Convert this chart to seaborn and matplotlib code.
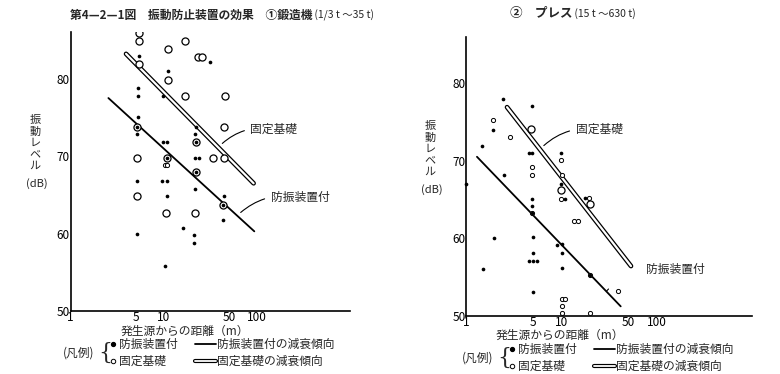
#!/usr/bin/env python3

import matplotlib
matplotlib.use('Agg')
import matplotlib.pyplot as plt
import matplotlib.ticker as mticker
from matplotlib.lines import Line2D
import seaborn as sns

# ---- data ----
# 1) forging machines (left)
forge_damped_x = [5.4, 31.5, 11.0, 5.3, 5.3, 9.9, 5.3, 5.2, 5.2, 22.0, 21.7, 9.9, 10.9,
                  21.7, 23.9, 5.1, 9.5, 10.7, 21.7, 10.8, 44.5, 43.5, 15.9, 5.1, 21.3,
                  21.3, 10.4, 22.0, 22.0, 10.8, 43.5]
forge_damped_y = [82.9, 82.2, 81.0, 78.8, 77.8, 77.8, 75.0, 73.8, 72.9, 73.8, 72.9, 71.8, 71.8,
                  69.8, 69.8, 66.8, 66.8, 66.8, 65.8, 64.8, 64.8, 61.8, 60.7, 59.9, 59.8,
                  58.8, 55.8, 71.8, 67.9, 69.8, 63.7]
forge_fixed_x = [5.4, 5.4, 17.0, 11.2, 23.0, 25.7, 5.4, 11.0, 16.7, 45.6, 44.5, 5.2, 22.0,
                 5.2, 10.8, 33.3, 44.5, 22.0, 5.2, 43.5, 10.6, 21.7]
forge_fixed_y = [85.9, 84.9, 84.9, 83.8, 82.8, 82.8, 81.9, 79.8, 77.8, 77.7, 73.8, 73.8, 71.8,
                 69.8, 69.8, 69.8, 69.8, 67.9, 64.8, 63.7, 62.7, 62.7]
forge_fixed_small_x = [10.3, 10.9]
forge_fixed_small_y = [68.8, 68.8]
forge_trend_fixed_x = [3.93, 91.9]
forge_trend_fixed_y = [83.2, 66.5]
forge_trend_damped_x = [2.54, 93.5]
forge_trend_damped_y = [77.5, 60.3]

# 2) presses (right)
press_damped_x = [2.41, 4.87, 1.47, 4.5, 4.87, 9.77, 2.47, 9.77, 4.87, 10.9, 17.8, 4.87, 4.87,
                  1.97, 4.95, 8.87, 10.0, 10.0, 4.95, 4.57, 5.03, 5.49, 1.51, 10.0, 20.0,
                  5.06, 1.89, 1.0]
press_damped_y = [78.0, 77.0, 71.9, 71.0, 71.0, 71.0, 68.1, 67.0, 65.1, 65.1, 65.2, 64.1, 63.2,
                  60.0, 60.1, 59.1, 59.3, 58.1, 58.1, 57.1, 57.1, 57.1, 56.0, 56.1, 55.2,
                  53.1, 74.0, 67.0]
press_fixed_x = [1.89, 2.89, 4.87, 4.87, 9.77, 10.0, 9.77, 19.6, 13.4, 14.8, 4.87, 20.0,
                 39.5, 10.0, 10.9, 10.0, 10.0, 19.7]
press_fixed_y = [75.2, 73.0, 69.2, 68.1, 70.1, 68.1, 65.1, 65.2, 62.2, 62.2, 63.2, 55.2,
                 53.2, 52.1, 52.1, 51.2, 50.4, 50.4]
press_fixed_big_x = [4.75, 9.77, 19.7]
press_fixed_big_y = [74.1, 66.2, 64.4]
press_trend_fixed_x = [2.67, 53.6]
press_trend_fixed_y = [76.9, 56.4]
press_trend_damped_x = [1.29, 41.8]
press_trend_damped_y = [70.5, 51.2]

x_ticks = [1, 5, 10, 50, 100]
y_ticks = [50, 60, 70, 80]

sns.set_style('white')
plt.rcParams['font.family'] = ['Noto Sans CJK JP', 'DejaVu Sans']
plt.rcParams['font.size'] = 9

JP = ['Noto Sans CJK JP', 'DejaVu Sans']


def style_axis(ax):
    ax.set_xscale('log')
    ax.set_xlim(1, 1000)
    ax.set_ylim(50, 86)
    sns.despine(ax=ax)
    for s in ['left', 'bottom']:
        ax.spines[s].set_color('black')
        ax.spines[s].set_linewidth(1.2)
    ax.xaxis.set_major_locator(mticker.FixedLocator(x_ticks))
    ax.xaxis.set_major_formatter(mticker.FixedFormatter([str(t) for t in x_ticks]))
    ax.xaxis.set_minor_locator(mticker.LogLocator(base=10, subs=range(2, 10)))
    ax.xaxis.set_minor_formatter(mticker.NullFormatter())
    ax.yaxis.set_major_locator(mticker.FixedLocator(y_ticks))
    ax.yaxis.set_minor_locator(mticker.MultipleLocator(2))
    ax.tick_params(axis='both', which='both', direction='in', color='black',
                   length=4, width=0.8, pad=0.5, labelsize=8.5, labelcolor='black')
    ax.tick_params(axis='x', pad=0)
    ax.set_xlabel('')
    ax.set_ylabel('')


def draw_trends(ax, fx, fy, dx, dy):
    sns.lineplot(x=fx, y=fy, ax=ax, color='black', linewidth=3.4)
    sns.lineplot(x=fx, y=fy, ax=ax, color='white', linewidth=1.6)
    sns.lineplot(x=dx, y=dy, ax=ax, color='black', linewidth=1.3)


fig = plt.figure(figsize=(7.8, 3.74), dpi=100)
ax1 = fig.add_axes([0.0906, 0.168, 0.3584, 0.746])
ax2 = fig.add_axes([0.598, 0.156, 0.366, 0.746])

# left panel
draw_trends(ax1, forge_trend_fixed_x, forge_trend_fixed_y,
            forge_trend_damped_x, forge_trend_damped_y)
sns.scatterplot(x=forge_fixed_x, y=forge_fixed_y, ax=ax1, s=26, facecolor='white',
                edgecolor='black', linewidth=0.9, zorder=3)
sns.scatterplot(x=forge_fixed_small_x, y=forge_fixed_small_y, ax=ax1, s=9, facecolor='white',
                edgecolor='black', linewidth=0.7, zorder=3)
sns.scatterplot(x=forge_damped_x, y=forge_damped_y, ax=ax1, s=7, color='black',
                linewidth=0, zorder=4)
style_axis(ax1)

# right panel
draw_trends(ax2, press_trend_fixed_x, press_trend_fixed_y,
            press_trend_damped_x, press_trend_damped_y)
sns.scatterplot(x=press_fixed_x, y=press_fixed_y, ax=ax2, s=9, facecolor='white',
                edgecolor='black', linewidth=0.7, zorder=3)
sns.scatterplot(x=press_fixed_big_x, y=press_fixed_big_y, ax=ax2, s=26, facecolor='white',
                edgecolor='black', linewidth=0.9, zorder=3)
sns.scatterplot(x=press_damped_x, y=press_damped_y, ax=ax2, s=7, color='black',
                linewidth=0, zorder=4, clip_on=False)
style_axis(ax2)

# annotations
arrow = dict(arrowstyle='-', color='black', linewidth=0.8, connectionstyle='arc3,rad=0.25')
ax1.annotate('固定基礎', xy=(40.3, 71.4), xytext=(84.7, 73.5), va='center', ha='left',
             fontsize=8.5, arrowprops=arrow, family=JP)
ax1.annotate('防振装置付', xy=(63.4, 62.5), xytext=(139.6, 64.7), va='center', ha='left',
             fontsize=8.5, arrowprops=arrow, family=JP)
ax2.annotate('固定基礎', xy=(6.19, 71.7), xytext=(14.0, 74.0), va='center', ha='left',
             fontsize=8.5, arrowprops=arrow, family=JP)
ax2.text(77.4, 56.0, '防振装置付', va='center', ha='left', fontsize=8.5, family=JP)
ax2.annotate('', xy=(28.3, 52.9), xytext=(32.6, 53.7),
             arrowprops=dict(arrowstyle='-', color='black', linewidth=0.8))

# titles: bold part followed by the lighter tonnage range
t1 = fig.text(70 / 780, 1 - 15 / 374, '第4—2—1図　振動防止装置の効果　①鍛造機',
              fontsize=8.5, fontweight='bold', va='center', ha='left', family=JP)
t2 = fig.text(510 / 780, 1 - 14 / 374, '②　プレス', fontsize=9, fontweight='bold',
              va='center', ha='left', family=JP)
for t, s in [(t1, ' (1/3 t ～35 t)'), (t2, ' (15 t ～630 t)')]:
    ax1.annotate(s, xy=(1, 0.5), xycoords=t, va='center', ha='left', fontsize=7.5,
                 family=JP, annotation_clip=False)

# vertical y labels
for x0, y0 in [(35, 120), (430, 126)]:
    for i, ch in enumerate('振動レベル'):
        fig.text(x0 / 780, 1 - (y0 + i * 11.5) / 374, ch, fontsize=8, ha='center',
                 va='center', family=JP)
    fig.text((x0 + 2) / 780, 1 - (y0 + 64) / 374, '(dB)', fontsize=8, ha='center',
             va='center', family=JP)

# x labels
fig.text(185 / 780, 1 - 331 / 374, '発生源からの距離（m）', fontsize=8.5, ha='center',
         va='center', family=JP)
fig.text(560 / 780, 1 - 335 / 374, '発生源からの距離（m）', fontsize=8.5, ha='center',
         va='center', family=JP)

# legends drawn below each panel
for (lx, ly) in [(63, 353), (462, 358)]:
    top = ly - 9
    bot = ly + 8
    fig.text(lx / 780, 1 - ly / 374, '(凡例)', fontsize=8.5, ha='left', va='center', family=JP)
    fig.text((lx + 35) / 780, 1 - ly / 374, '{', fontsize=16, ha='left', va='center',
             family='DejaVu Serif', fontweight='light')
    fig.add_artist(Line2D([(lx + 50) / 780], [1 - top / 374], marker='o', markersize=2.8,
                          color='black', linestyle='none'))
    fig.add_artist(Line2D([(lx + 50) / 780], [1 - bot / 374], marker='o', markersize=3.2,
                          markerfacecolor='white', markeredgecolor='black',
                          markeredgewidth=0.7, linestyle='none'))
    fig.text((lx + 56) / 780, 1 - top / 374, '防振装置付', fontsize=8.5, ha='left',
             va='center', family=JP)
    fig.text((lx + 56) / 780, 1 - bot / 374, '固定基礎', fontsize=8.5, ha='left',
             va='center', family=JP)
    sx0 = (lx + 132) / 780
    sx1 = (lx + 153) / 780
    fig.add_artist(Line2D([sx0, sx1], [1 - top / 374] * 2, color='black', linewidth=1.3))
    fig.add_artist(Line2D([sx0, sx1], [1 - bot / 374] * 2, color='black', linewidth=3.0))
    fig.add_artist(Line2D([sx0, sx1], [1 - bot / 374] * 2, color='white', linewidth=1.3))
    fig.text((lx + 154) / 780, 1 - top / 374, '防振装置付の減衰傾向', fontsize=8.5,
             ha='left', va='center', family=JP)
    fig.text((lx + 154) / 780, 1 - bot / 374, '固定基礎の減衰傾向', fontsize=8.5,
             ha='left', va='center', family=JP)

fig.savefig('out.png', dpi=100)
plt.close(fig)
